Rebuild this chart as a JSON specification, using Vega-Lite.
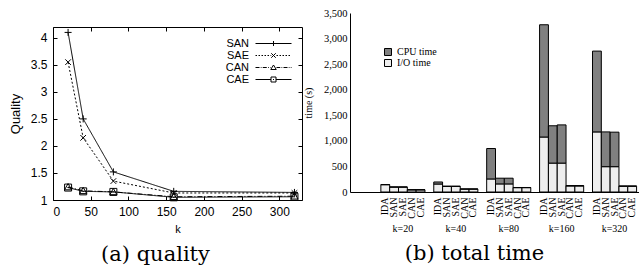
{
  "$schema": "https://vega.github.io/schema/vega-lite/v6.json",
  "padding": {"left": 9, "top": 8, "right": 0, "bottom": 0},
  "spacing": 0,
  "config": {"view": {"stroke": null}, "font": "Liberation Sans"},
  "datasets": {
    "quality": [
      {"series": "SAN", "k": 20, "quality": 4.1},
      {"series": "SAN", "k": 40, "quality": 2.5},
      {"series": "SAN", "k": 80, "quality": 1.52},
      {"series": "SAN", "k": 160, "quality": 1.16},
      {"series": "SAN", "k": 320, "quality": 1.14},
      {"series": "SAE", "k": 20, "quality": 3.55},
      {"series": "SAE", "k": 40, "quality": 2.15},
      {"series": "SAE", "k": 80, "quality": 1.35},
      {"series": "SAE", "k": 160, "quality": 1.13},
      {"series": "SAE", "k": 320, "quality": 1.13},
      {"series": "CAN", "k": 20, "quality": 1.24},
      {"series": "CAN", "k": 40, "quality": 1.17},
      {"series": "CAN", "k": 80, "quality": 1.15},
      {"series": "CAN", "k": 160, "quality": 1.06},
      {"series": "CAN", "k": 320, "quality": 1.07},
      {"series": "CAE", "k": 20, "quality": 1.23},
      {"series": "CAE", "k": 40, "quality": 1.16},
      {"series": "CAE", "k": 80, "quality": 1.15},
      {"series": "CAE", "k": 160, "quality": 1.05},
      {"series": "CAE", "k": 320, "quality": 1.06}
    ],
    "time": [
      {"k": "20", "method": "IDA", "part": "I/O time", "time": 143},
      {"k": "20", "method": "IDA", "part": "CPU time", "time": 2},
      {"k": "20", "method": "SAN", "part": "I/O time", "time": 96},
      {"k": "20", "method": "SAN", "part": "CPU time", "time": 2},
      {"k": "20", "method": "SAE", "part": "I/O time", "time": 96},
      {"k": "20", "method": "SAE", "part": "CPU time", "time": 2},
      {"k": "20", "method": "CAN", "part": "I/O time", "time": 42},
      {"k": "20", "method": "CAN", "part": "CPU time", "time": 2},
      {"k": "20", "method": "CAE", "part": "I/O time", "time": 42},
      {"k": "20", "method": "CAE", "part": "CPU time", "time": 2},
      {"k": "40", "method": "IDA", "part": "I/O time", "time": 156},
      {"k": "40", "method": "IDA", "part": "CPU time", "time": 40},
      {"k": "40", "method": "SAN", "part": "I/O time", "time": 110},
      {"k": "40", "method": "SAN", "part": "CPU time", "time": 2},
      {"k": "40", "method": "SAE", "part": "I/O time", "time": 110},
      {"k": "40", "method": "SAE", "part": "CPU time", "time": 2},
      {"k": "40", "method": "CAN", "part": "I/O time", "time": 57},
      {"k": "40", "method": "CAN", "part": "CPU time", "time": 2},
      {"k": "40", "method": "CAE", "part": "I/O time", "time": 57},
      {"k": "40", "method": "CAE", "part": "CPU time", "time": 2},
      {"k": "80", "method": "IDA", "part": "I/O time", "time": 255},
      {"k": "80", "method": "IDA", "part": "CPU time", "time": 595},
      {"k": "80", "method": "SAN", "part": "I/O time", "time": 158},
      {"k": "80", "method": "SAN", "part": "CPU time", "time": 112},
      {"k": "80", "method": "SAE", "part": "I/O time", "time": 158},
      {"k": "80", "method": "SAE", "part": "CPU time", "time": 112},
      {"k": "80", "method": "CAN", "part": "I/O time", "time": 85},
      {"k": "80", "method": "CAN", "part": "CPU time", "time": 3},
      {"k": "80", "method": "CAE", "part": "I/O time", "time": 85},
      {"k": "80", "method": "CAE", "part": "CPU time", "time": 3},
      {"k": "160", "method": "IDA", "part": "I/O time", "time": 1075},
      {"k": "160", "method": "IDA", "part": "CPU time", "time": 2195},
      {"k": "160", "method": "SAN", "part": "I/O time", "time": 565},
      {"k": "160", "method": "SAN", "part": "CPU time", "time": 730},
      {"k": "160", "method": "SAE", "part": "I/O time", "time": 565},
      {"k": "160", "method": "SAE", "part": "CPU time", "time": 747},
      {"k": "160", "method": "CAN", "part": "I/O time", "time": 118},
      {"k": "160", "method": "CAN", "part": "CPU time", "time": 8},
      {"k": "160", "method": "CAE", "part": "I/O time", "time": 118},
      {"k": "160", "method": "CAE", "part": "CPU time", "time": 8},
      {"k": "320", "method": "IDA", "part": "I/O time", "time": 1175},
      {"k": "320", "method": "IDA", "part": "CPU time", "time": 1580},
      {"k": "320", "method": "SAN", "part": "I/O time", "time": 495},
      {"k": "320", "method": "SAN", "part": "CPU time", "time": 680},
      {"k": "320", "method": "SAE", "part": "I/O time", "time": 495},
      {"k": "320", "method": "SAE", "part": "CPU time", "time": 675},
      {"k": "320", "method": "CAN", "part": "I/O time", "time": 112},
      {"k": "320", "method": "CAN", "part": "CPU time", "time": 6},
      {"k": "320", "method": "CAE", "part": "I/O time", "time": 112},
      {"k": "320", "method": "CAE", "part": "CPU time", "time": 6}
    ]
  },
  "hconcat": [
    {
      "spacing": 12,
      "vconcat": [
        {
          "width": 10,
          "height": 1,
          "data": {"values": []},
          "mark": {"type": "point", "opacity": 0},
          "encoding": {}
        },
        {
          "width": 249,
          "height": 173,
          "title": {"text": "(a) quality", "orient": "bottom", "anchor": "middle", "font": "DejaVu Serif", "fontSize": 21, "fontWeight": "normal", "color": "black", "dx": -22, "offset": 10},
          "data": {"name": "quality"},
          "layer": [
            {
              "mark": {"type": "line", "color": "black", "strokeWidth": 1},
              "encoding": {
                "x": {"field": "k", "type": "quantitative", "scale": {"domain": [0, 330], "nice": false},
                  "axis": {"values": [0, 50, 100, 150, 200, 250, 300], "grid": false, "tickSize": -4, "labelPadding": 10, "labelFont": "Liberation Sans", "labelFontSize": 12, "labelColor": "black", "domainColor": "black", "tickColor": "black", "title": "k", "titleFont": "Liberation Sans", "titleFontSize": 11, "titleFontWeight": "normal", "titleColor": "black", "titlePadding": 6}},
                "y": {"field": "quality", "type": "quantitative", "scale": {"domain": [1, 4.2], "nice": false, "zero": false},
                  "axis": {"values": [1, 1.5, 2, 2.5, 3, 3.5, 4], "format": "~g", "grid": false, "tickSize": -4, "labelPadding": 10, "labelFont": "Liberation Sans", "labelFontSize": 12, "labelColor": "black", "domainColor": "black", "tickColor": "black", "title": "Quality", "titleFont": "Liberation Sans", "titleFontSize": 13, "titleFontWeight": "normal", "titleColor": "black", "titlePadding": 8}},
                "strokeDash": {"field": "series", "type": "nominal", "scale": {"domain": ["SAN", "SAE", "CAN", "CAE"], "range": [[1, 0], [2, 2], [5, 2, 1, 2], [1, 0]]}, "legend": null}
              }
            },
            {
              "mark": {"type": "point", "filled": false, "color": "black", "strokeWidth": 1, "size": 49, "opacity": 1},
              "encoding": {
                "x": {"field": "k", "type": "quantitative", "axis": {"orient": "top", "values": [0, 50, 100, 150, 200, 250, 300], "labels": false, "grid": false, "tickSize": -4, "domainColor": "black", "tickColor": "black", "title": null}},
                "y": {"field": "quality", "type": "quantitative", "axis": {"orient": "right", "values": [1, 1.5, 2, 2.5, 3, 3.5, 4], "labels": false, "grid": false, "tickSize": -4, "domainColor": "black", "tickColor": "black", "title": null}},
                "shape": {"field": "series", "type": "nominal", "scale": {"domain": ["SAN", "SAE", "CAN", "CAE"], "range": ["M-1,0L1,0M0,-1L0,1", "M-0.8,-0.8L0.8,0.8M-0.8,0.8L0.8,-0.8", "M0,-1L1,0.8L-1,0.8Z", "M-1,-1L1,-1L1,1L-1,1ZM-0.2,0L0.2,0"]}, "legend": null}
              }
            },
            {
              "transform": [{"filter": "false"}],
              "mark": {"type": "point", "filled": false, "color": "black", "strokeWidth": 1, "size": 144, "opacity": 1},
              "encoding": {
                "x": {"field": "k", "type": "quantitative", "axis": null},
                "y": {"field": "quality", "type": "quantitative", "axis": null},
                "shape": {"field": "series", "type": "nominal",
                  "scale": {"domain": ["SAN", "SAE", "CAN", "CAE"], "range": [
                    "M-3.6,0L3.6,0M0,-0.5L0,0.5",
                    "M-3.6,0L-3.3,0M-3,0L-2.7,0M-2.4,0L-2.1,0M-1.8,0L-1.5,0M-1.2,0L-0.9,0M-0.6,0L-0.45,0M0.6,0L0.9,0M1.2,0L1.5,0M1.8,0L2.1,0M2.4,0L2.7,0M3,0L3.3,0M-0.45,-0.45L0.45,0.45M-0.45,0.45L0.45,-0.45",
                    "M-3.6,0L-2.8,0M-2.55,0L-2.4,0M-2.15,0L-1.35,0M-1.1,0L-0.95,0M-0.7,0L-0.6,0M0.6,0L1.35,0M1.6,0L1.75,0M2,0L2.8,0M3.05,0L3.2,0M3.45,0L3.6,0M0,-0.5L0.55,0.4L-0.55,0.4Z",
                    "M-3.6,0L-0.5,0M0.5,0L3.6,0M-0.5,-0.5L0.5,-0.5L0.5,0.5L-0.5,0.5ZM-0.1,0L0.1,0"]},
                  "legend": {"orient": "none", "legendX": 215, "legendY": 11, "title": null, "padding": 0, "rowPadding": 0, "labelAlign": "right", "labelOffset": -30, "labelFont": "Liberation Sans", "labelFontSize": 11, "labelColor": "black", "symbolStrokeColor": "black", "symbolStrokeWidth": 1, "symbolFillColor": "transparent"}}
              }
            }
          ],
          "resolve": {"scale": {"shape": "independent"}, "axis": {"x": "independent", "y": "independent"}}
        }
      ]
    },
    {
      "width": 291,
      "height": 179,
      "title": {"text": "(b) total time", "orient": "bottom", "anchor": "middle", "font": "DejaVu Serif", "fontSize": 21, "fontWeight": "normal", "color": "black", "dx": -21, "offset": 10},
      "data": {"name": "time"},
      "transform": [{"calculate": "datum.k + '|' + datum.method", "as": "slot"}],
      "layer": [
        {
          "mark": {"type": "bar", "stroke": "black", "strokeWidth": 1},
          "encoding": {
            "x": {"field": "slot", "type": "nominal",
              "scale": {"domain": ["_a", "_b", "_c", "20|IDA", "20|SAN", "20|SAE", "20|CAN", "20|CAE", "_d", "40|IDA", "40|SAN", "40|SAE", "40|CAN", "40|CAE", "_e", "80|IDA", "80|SAN", "80|SAE", "80|CAN", "80|CAE", "_f", "160|IDA", "160|SAN", "160|SAE", "160|CAN", "160|CAE", "_g", "320|IDA", "320|SAN", "320|SAE", "320|CAN", "320|CAE"], "paddingInner": 0, "paddingOuter": 0.5},
              "axis": {"labelExpr": "indexof(datum.value, '|') >= 0 ? split(datum.value, '|')[1] : ''", "labelAngle": 270, "ticks": false, "grid": false, "domainColor": "black", "labelFont": "Liberation Serif", "labelFontSize": 10, "labelColor": "black", "labelPadding": 5, "title": null}},
            "y": {"field": "time", "type": "quantitative", "stack": "zero", "scale": {"domain": [0, 3500], "nice": false},
              "axis": {"values": [0, 500, 1000, 1500, 2000, 2500, 3000, 3500], "labelExpr": "format(datum.value, ',')", "ticks": false, "grid": false, "domainColor": "black", "labelFont": "Liberation Serif", "labelFontSize": 10.5, "labelColor": "black", "labelPadding": 3, "title": "time (s)", "titleFont": "Liberation Serif", "titleFontSize": 10, "titleFontWeight": "normal", "titleColor": "black", "titlePadding": 10}},
            "color": {"field": "part", "type": "nominal", "scale": {"domain": ["CPU time", "I/O time"], "range": ["#808080", "#eeeeee"]},
              "legend": {"orient": "none", "legendX": 330, "legendY": 34, "title": null, "padding": 0, "rowPadding": -2, "symbolType": "square", "symbolSize": 49, "symbolStrokeColor": "black", "symbolStrokeWidth": 1, "labelOffset": 4, "labelFont": "Liberation Serif", "labelFontSize": 10, "labelColor": "black"}},
            "order": {"field": "part", "sort": "descending"}
          }
        },
        {
          "mark": {"type": "bar", "opacity": 0},
          "encoding": {
            "x": {"field": "slot", "type": "nominal",
              "scale": {"domain": ["_a", "_b", "_c", "20|IDA", "20|SAN", "20|SAE", "20|CAN", "20|CAE", "_d", "40|IDA", "40|SAN", "40|SAE", "40|CAN", "40|CAE", "_e", "80|IDA", "80|SAN", "80|SAE", "80|CAN", "80|CAE", "_f", "160|IDA", "160|SAN", "160|SAE", "160|CAN", "160|CAE", "_g", "320|IDA", "320|SAN", "320|SAE", "320|CAN", "320|CAE"], "paddingInner": 0, "paddingOuter": 0.5},
              "axis": {"orient": "bottom", "labelExpr": "split(datum.value, '|')[1] == 'SAE' ? 'k=' + split(datum.value, '|')[0] : ''", "labelAngle": 0, "ticks": false, "domain": false, "grid": false, "labelFont": "Liberation Serif", "labelFontSize": 10, "labelColor": "black", "labelPadding": 31, "title": null}},
            "y": {"field": "time", "type": "quantitative", "stack": "zero",
              "axis": {"values": [0, 500, 1000, 1500, 2000, 2500, 3000, 3500], "labelExpr": "format(datum.value, ',')", "ticks": false, "grid": false, "domainColor": "black", "labelFont": "Liberation Serif", "labelFontSize": 10.5, "labelColor": "black", "labelPadding": 3, "title": "time (s)", "titleFont": "Liberation Serif", "titleFontSize": 10, "titleFontWeight": "normal", "titleColor": "black", "titlePadding": 10}}
          }
        }
      ],
      "resolve": {"scale": {"x": "independent"}}
    }
  ]
}
